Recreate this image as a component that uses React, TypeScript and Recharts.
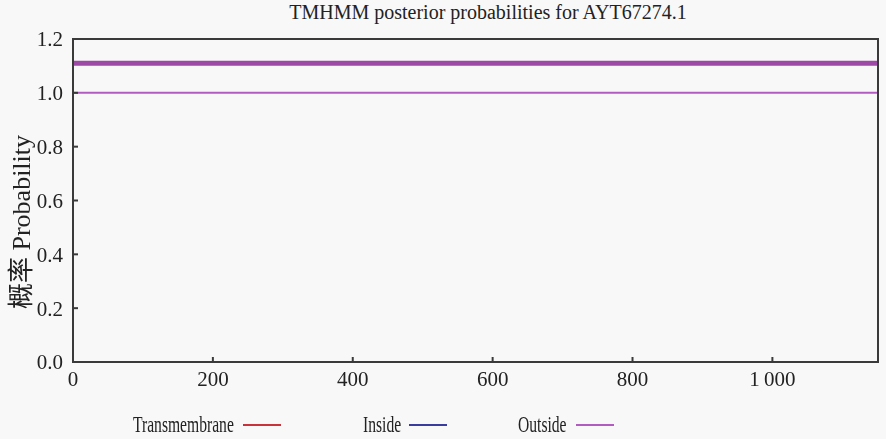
import { LineChart, Line, XAxis, YAxis, ReferenceArea } from 'recharts';

// TMHMM output for AYT67274.1 (sequence length ~1151 aa)
const seqLength = 1151;
const probMax = 1.2;

const xTicks = [0, 200, 400, 600, 800, 1000];
const yTicks = [0, 0.2, 0.4, 0.6, 0.8, 1.0, 1.2];

// posterior probability series: [position, probability]
const outsidePos = [1, 1151];
const outsideProb = [1.0, 1.0];
const insidePos = [1, 3];
const insideProb = [0, 0];
const tmPos = [1, 32];
const tmProb = [0, 0];
// predicted topology bar drawn above the curves
const topoPos = [1, 1151];
const topoLevel = [1.11, 1.11];

const toPoints = (xs: number[], ys: number[]) => xs.map((x, i) => ({ x, y: ys[i] }));

const outsideData = toPoints(outsidePos, outsideProb);
const insideData = toPoints(insidePos, insideProb);
const tmData = toPoints(tmPos, tmProb);
const topoData = toPoints(topoPos, topoLevel);

const legendItems = [
  { name: 'Transmembrane', color: '#c8323a', left: 133, line: 243 },
  { name: 'Inside', color: '#3a3c9e', left: 363, line: 409 },
  { name: 'Outside', color: '#b25cc2', left: 518, line: 576 },
];

const FONT = '"Liberation Serif", "Noto Sans CJK SC", serif';
const AXIS = '#3a3a3a';

const formatX = (v: number) => (v >= 1000 ? `${Math.floor(v / 1000)}\u2009${String(v % 1000).padStart(3, '0')}` : String(v));

const App = () => {
  return (
    <div style={{ position: 'fixed', left: 0, top: 0, width: 886, height: 439, background: '#f8f8f8', fontFamily: FONT }}>
      <div style={{ position: 'absolute', left: 488, top: 0, transform: 'translateX(-50%)', fontSize: 20, color: '#222', whiteSpace: 'nowrap', lineHeight: '24px' }}>
        TMHMM posterior probabilities for AYT67274.1
      </div>
      <div style={{ position: 'absolute', left: 18, top: 222, transform: 'translate(-50%, -50%) rotate(-90deg)', fontSize: 26, color: '#222', whiteSpace: 'nowrap' }}>
        概率 Probability
      </div>

      <LineChart width={886} height={439} data={outsideData} margin={{ top: 39, right: 8, bottom: 47, left: 13 }}>
        <XAxis
          dataKey="x"
          type="number"
          domain={[0, seqLength]}
          ticks={xTicks}
          tickFormatter={formatX}
          allowDataOverflow
          height={30}
          stroke={AXIS}
          strokeWidth={2}
          tickSize={-5}
          tickMargin={14}
          tick={{ fill: '#222', fontSize: 21, fontFamily: FONT }}
        />
        <YAxis
          type="number"
          domain={[0, probMax]}
          ticks={yTicks}
          tickFormatter={(v: number) => v.toFixed(1)}
          allowDataOverflow
          width={60}
          stroke={AXIS}
          strokeWidth={2}
          tickSize={-5}
          tickMargin={15}
          tick={{ fill: '#222', fontSize: 21, fontFamily: FONT }}
        />
        {/* plot box outline */}
        <ReferenceArea x1={0} x2={seqLength} y1={0} y2={probMax} fill="none" fillOpacity={0} stroke={AXIS} strokeWidth={2} ifOverflow="visible" />
        <Line data={outsideData} dataKey="y" stroke="#b25cc2" strokeWidth={2} dot={false} isAnimationActive={false} />
        <Line data={topoData} dataKey="y" stroke="#9c4aa6" strokeWidth={5} dot={false} isAnimationActive={false} />
        <Line data={tmData} dataKey="y" stroke="#c8323a" strokeWidth={2} dot={false} isAnimationActive={false} />
        <Line data={insideData} dataKey="y" stroke="#3a3c9e" strokeWidth={2} dot={false} isAnimationActive={false} />
      </LineChart>

      {/* top and right border of the plot box (fallback) */}
      <div style={{ position: 'absolute', left: 72, top: 38, width: 805, height: 323, borderTop: `2px solid ${AXIS}`, borderRight: `2px solid ${AXIS}`, pointerEvents: 'none', boxSizing: 'content-box' }} />

      {legendItems.map((item) => (
        <div key={item.name} style={{ position: 'absolute', left: item.left, top: 409, display: 'flex', alignItems: 'center', height: 30 }}>
          <span style={{ fontSize: 24, color: '#222', display: 'inline-block', transform: 'scaleX(0.65)', transformOrigin: 'left center', whiteSpace: 'nowrap', width: 0 }}>
            {item.name}
          </span>
        </div>
      ))}
      {legendItems.map((item) => (
        <div key={item.name + '-line'} style={{ position: 'absolute', left: item.line, top: 424, width: 38, height: 2, background: item.color }} />
      ))}
    </div>
  );
};

export default App;
